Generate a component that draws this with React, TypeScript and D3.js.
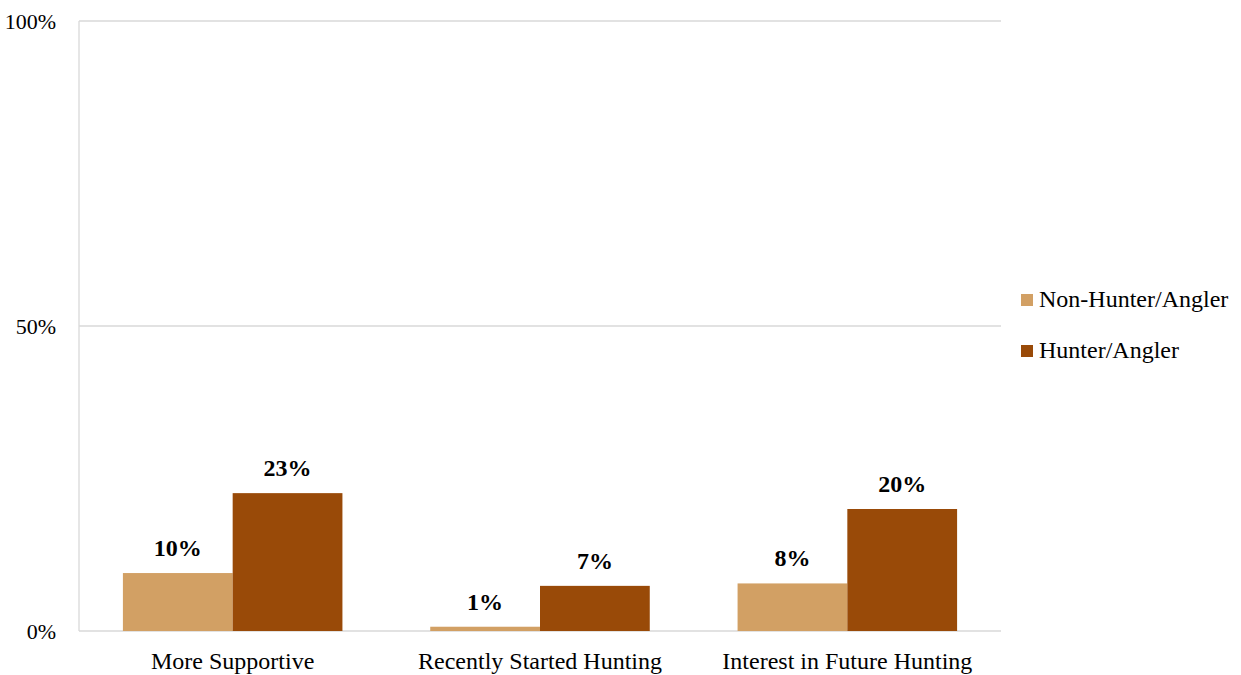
import React from "react";
import * as d3 from "d3";

const categories = ["More Supportive", "Recently Started Hunting", "Interest in Future Hunting"];
const seriesNames = ["Non-Hunter/Angler", "Hunter/Angler"];
const nonHunterValues = [9.5, 0.7, 7.8];
const hunterValues = [22.6, 7.4, 20.0];
const valueLabels = [["10%", "1%", "8%"], ["23%", "7%", "20%"]];
const yTicks = [0, 50, 100];
const colors = ["#D2A064", "#994A08"];

const W = 1241;
const H = 675;
const left = 79;
const right = 1001;
const top = 21;
const bottom = 631;
const font = "Liberation Serif";

export default function App() {
  const series = [nonHunterValues, hunterValues];
  const x0 = d3.scaleBand<string>().domain(categories).range([left, right]).padding(0);
  const step = x0.bandwidth();
  const groupW = step / 1.4;
  const x1 = d3.scaleBand<string>().domain(seriesNames).range([0, groupW]).padding(0);
  const y = d3.scaleLinear().domain([0, 100]).range([bottom, top]);

  return (
    <svg width={W} height={H} style={{ position: "absolute", left: 0, top: 0, background: "#fff" }}>
      {yTicks.map((t) => (
        <g key={t}>
          <line x1={left} x2={right} y1={y(t)} y2={y(t)} stroke="#D9D9D9" strokeWidth={1.3} />
          <text x={56} y={y(t) + 7.5} textAnchor="end" style={{ fontFamily: font, fontSize: 22 }} fill="#000">
            {t}%
          </text>
        </g>
      ))}
      <line x1={left} x2={left} y1={top} y2={bottom} stroke="#D9D9D9" strokeWidth={1.3} />
      {categories.map((c, ci) => {
        const gx = (x0(c) as number) + (step - groupW) / 2;
        return (
          <g key={c}>
            {series.map((vals, si) => {
              const bx = gx + (x1(seriesNames[si]) as number);
              const bw = x1.bandwidth();
              return (
                <g key={si}>
                  <rect x={bx} y={y(vals[ci])} width={bw} height={y(0) - y(vals[ci])} fill={colors[si]} />
                  <text
                    x={bx + bw / 2}
                    y={y(vals[ci]) - 17}
                    textAnchor="middle"
                    style={{ fontFamily: font, fontSize: 24, fontWeight: "bold" }}
                    fill="#000"
                  >
                    {valueLabels[si][ci]}
                  </text>
                </g>
              );
            })}
            <text x={(x0(c) as number) + step / 2} y={669} textAnchor="middle" style={{ fontFamily: font, fontSize: 24 }} fill="#000">
              {c}
            </text>
          </g>
        );
      })}
      {seriesNames.map((s, i) => (
        <g key={s}>
          <rect x={1021} y={294 + i * 51} width={12} height={12} fill={colors[i]} />
          <text x={1039} y={307 + i * 51} style={{ fontFamily: font, fontSize: 24 }} fill="#000">
            {s}
          </text>
        </g>
      ))}
    </svg>
  );
}
